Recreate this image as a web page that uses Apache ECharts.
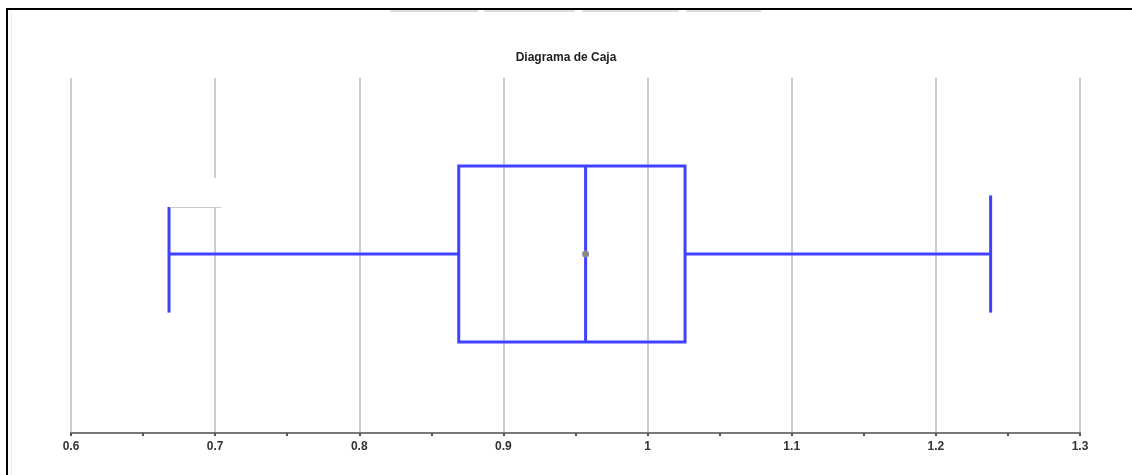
<!DOCTYPE html>
<html>
<head>
<meta charset="utf-8">
<script src="https://cdn.jsdelivr.net/npm/echarts@6/dist/echarts.min.js"></script>
<style>html,body{margin:0;padding:0;background:#fff}#c{width:1132px;height:475px}</style>
</head>
<body>
<div id="c"></div>
<script>
const categories = ['Datos'];
const minVals = [0.668];
const q1Vals = [0.869];
const medianVals = [0.957];
const q3Vals = [1.026];
const maxVals = [1.238];
const meanVals = [0.957];
const tickLabels = ['0.6', '0.7', '0.8', '0.9', '1', '1.1', '1.2', '1.3'];

const boxData = categories.map((c, i) => [i, minVals[i], q1Vals[i], medianVals[i], q3Vals[i], maxVals[i], meanVals[i]]);
const blue = '#4040ff';

const chart = echarts.init(document.getElementById('c'));
chart.setOption({
  animation: false,
  backgroundColor: '#fff',
  title: {
    text: 'Diagrama de Caja',
    left: 'center',
    top: 47,
    textStyle: { fontFamily: 'Liberation Sans, Arial, sans-serif', fontSize: 12, fontWeight: 'bold', color: '#222' }
  },
  grid: { left: 71, right: 52, top: 78, bottom: 42 },
  xAxis: {
    type: 'value',
    min: 0.6, max: 1.3, interval: 0.1,
    axisLine: { show: true, onZero: false, lineStyle: { color: '#777', width: 2 } },
    axisTick: { show: true, length: 3, inside: false, lineStyle: { color: '#555', width: 2 } },
    minorTick: { show: true, splitNumber: 2, length: 3, lineStyle: { color: '#555', width: 2 } },
    splitLine: { show: true, lineStyle: { color: '#cccccc', width: 2 } },
    axisLabel: {
      margin: 8,
      fontFamily: 'Liberation Sans, Arial, sans-serif', fontSize: 12, fontWeight: 'bold', color: '#333',
      formatter: function (v) {
        const idx = Math.round((v - 0.6) / 0.1);
        return tickLabels[idx] !== undefined ? tickLabels[idx] : '';
      }
    }
  },
  yAxis: {
    type: 'category',
    data: categories,
    show: false,
    axisLine: { show: false }, axisTick: { show: false }, splitLine: { show: false }
  },
  series: [{
    type: 'custom',
    data: boxData,
    encode: { x: [1, 2, 3, 4, 5, 6], y: 0 },
    renderItem: function (params, api) {
      const cat = api.value(0);
      const pMin = api.coord([api.value(1), cat]);
      const pQ1 = api.coord([api.value(2), cat]);
      const pMed = api.coord([api.value(3), cat]);
      const pQ3 = api.coord([api.value(4), cat]);
      const pMax = api.coord([api.value(5), cat]);
      const pMean = api.coord([api.value(6), cat]);
      const band = api.size([0, 1])[1];
      const cy = pMed[1] - 1.5;
      const bh = band * 0.496 / 2;
      const ch = band * 0.33 / 2;
      const st = { stroke: blue, lineWidth: 3, fill: null };
      return {
        type: 'group',
        children: [
          { type: 'line', shape: { x1: pMin[0], y1: cy, x2: pQ1[0], y2: cy }, style: st },
          { type: 'line', shape: { x1: pQ3[0], y1: cy, x2: pMax[0], y2: cy }, style: st },
          { type: 'line', shape: { x1: pMin[0], y1: cy - ch, x2: pMin[0], y2: cy + ch }, style: st },
          { type: 'line', shape: { x1: pMax[0], y1: cy - ch, x2: pMax[0], y2: cy + ch }, style: st },
          { type: 'rect', shape: { x: pQ1[0], y: cy - bh, width: pQ3[0] - pQ1[0], height: 2 * bh }, style: st },
          { type: 'line', shape: { x1: pMed[0], y1: cy - bh, x2: pMed[0], y2: cy + bh }, style: st },
          { type: 'circle', shape: { cx: pMean[0], cy: cy, r: 3.5 }, style: { fill: '#8a8a8a', stroke: null } }
        ]
      };
    }
  }],
  graphic: [
    { type: 'line', shape: { x1: 6, y1: 9, x2: 1132, y2: 9 }, style: { stroke: '#000', lineWidth: 2 }, z: 100 },
    { type: 'line', shape: { x1: 7, y1: 9, x2: 7, y2: 475 }, style: { stroke: '#000', lineWidth: 2 }, z: 100 },
    { type: 'line', shape: { x1: 11.5, y1: 11, x2: 11.5, y2: 475 }, style: { stroke: '#eee', lineWidth: 1 }, z: 100 },
    { type: 'rect', shape: { x: 390, y: 10, width: 88, height: 2 }, style: { fill: '#ddd' }, z: 100 },
    { type: 'rect', shape: { x: 484, y: 10, width: 91, height: 2 }, style: { fill: '#ddd' }, z: 100 },
    { type: 'rect', shape: { x: 582, y: 10, width: 97, height: 2 }, style: { fill: '#ddd' }, z: 100 },
    { type: 'rect', shape: { x: 686, y: 10, width: 75, height: 2 }, style: { fill: '#ddd' }, z: 100 },
    { type: 'rect', shape: { x: 158, y: 178, width: 66, height: 29 }, style: { fill: '#fff' }, z: 100 },
    { type: 'line', shape: { x1: 170, y1: 207.5, x2: 221, y2: 207.5 }, style: { stroke: '#ccc', lineWidth: 1 }, z: 100 }
  ]
});
</script>
</body>
</html>
